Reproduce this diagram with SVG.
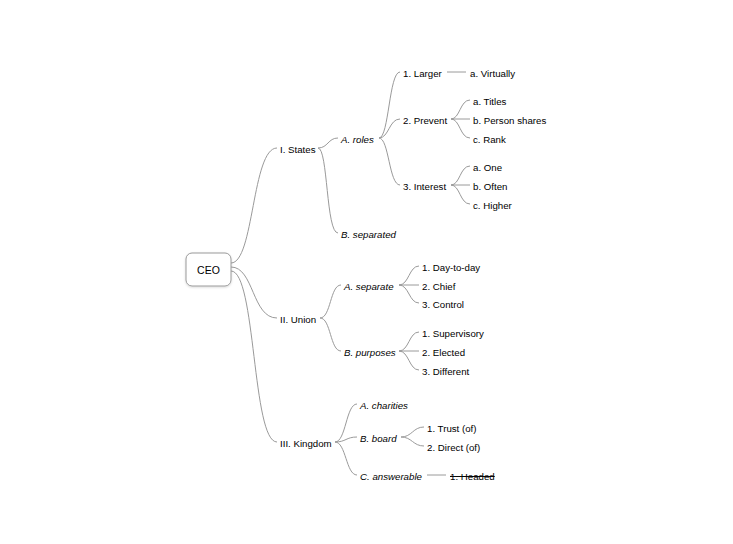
<svg xmlns="http://www.w3.org/2000/svg" width="733" height="544" viewBox="0 0 733 544">
<defs>
<filter id="sh" x="-20%" y="-20%" width="140%" height="150%">
<feDropShadow dx="0" dy="1" stdDeviation="1" flood-color="#000" flood-opacity="0.15"/>
</filter>
</defs>
<style>
text{font-family:"Liberation Sans",Arial,sans-serif;font-size:9.7px;fill:#000}
.i{font-style:italic}
.s{text-decoration:line-through}
.c{fill:none;stroke:#9a9a9a;stroke-width:1}
</style>
<rect width="733" height="544" fill="#fff"/>
<g id="connectors">
<path class="c" d="M231,263 C254,263 252,148 277,148"/>
<path class="c" d="M231,267 C254,267 252,318 277,318"/>
<path class="c" d="M231,271 C256,271 252,442 277,442"/>
<path class="c" d="M318,148 C328,148 328,138 338,138"/>
<path class="c" d="M318,148 C328,148 326,233 338,233"/>
<path class="c" d="M379,138 C389,138 389,72 400,72"/>
<path class="c" d="M379,138 C389,138 389,119 400,119"/>
<path class="c" d="M379,138 C389,138 389,185 400,185"/>
<path class="c" d="M447,72 L466,72"/>
<path class="c" d="M451,119 C460,119 460,100 470,100"/>
<path class="c" d="M451,119 L470,119"/>
<path class="c" d="M451,119 C460,119 460,138 470,138"/>
<path class="c" d="M451,185 C460,185 460,166 470,166"/>
<path class="c" d="M451,185 L470,185"/>
<path class="c" d="M451,185 C460,185 460,204 470,204"/>
<path class="c" d="M320,318 C331,318 330,285 341,285"/>
<path class="c" d="M320,318 C331,318 330,351 341,351"/>
<path class="c" d="M399,285 C409,285 409,266 419,266"/>
<path class="c" d="M399,285 L419,285"/>
<path class="c" d="M399,285 C409,285 409,303 419,303"/>
<path class="c" d="M399,351 C409,351 409,332 419,332"/>
<path class="c" d="M399,351 L419,351"/>
<path class="c" d="M399,351 C409,351 409,370 419,370"/>
<path class="c" d="M335,442 C346,442 346,404 357,404"/>
<path class="c" d="M335,442 C346,442 346,437 357,437"/>
<path class="c" d="M335,442 C346,442 346,475 357,475"/>
<path class="c" d="M401,437 C412,437 413,427 424,427"/>
<path class="c" d="M401,437 C412,437 413,446 424,446"/>
<path class="c" d="M427,475 L446,475"/>
</g>
<g id="ceo"><rect x="186" y="253" width="45" height="33" rx="6" fill="#fff" stroke="#9a9a9a" filter="url(#sh)"/><text x="208.5" y="274" text-anchor="middle" style="font-size:10.5px">CEO</text></g>
<g id="n1"><text x="280" y="152.5">I. States</text></g>
<g id="n1a"><text class="i" x="341" y="142.5">A. roles</text></g>
<g id="n1b"><text class="i" x="341" y="237.5">B. separated</text></g>
<g id="n1a1"><text x="403" y="76.5">1. Larger</text></g>
<g id="n1a1a"><text x="470" y="76.5">a. Virtually</text></g>
<g id="n1a2"><text x="403" y="123.5">2. Prevent</text></g>
<g id="n1a2a"><text x="473" y="104.5">a. Titles</text></g>
<g id="n1a2b"><text x="473" y="123.5">b. Person shares</text></g>
<g id="n1a2c"><text x="473" y="142.5">c. Rank</text></g>
<g id="n1a3"><text x="403" y="189.5">3. Interest</text></g>
<g id="n1a3a"><text x="473" y="170.5">a. One</text></g>
<g id="n1a3b"><text x="473" y="189.5">b. Often</text></g>
<g id="n1a3c"><text x="473" y="208.5">c. Higher</text></g>
<g id="n2"><text x="280" y="322.5">II. Union</text></g>
<g id="n2a"><text class="i" x="344" y="289.5">A. separate</text></g>
<g id="n2a1"><text x="422" y="270.5">1. Day-to-day</text></g>
<g id="n2a2"><text x="422" y="289.5">2. Chief</text></g>
<g id="n2a3"><text x="422" y="307.5">3. Control</text></g>
<g id="n2b"><text class="i" x="344" y="355.5">B. purposes</text></g>
<g id="n2b1"><text x="422" y="336.5">1. Supervisory</text></g>
<g id="n2b2"><text x="422" y="355.5">2. Elected</text></g>
<g id="n2b3"><text x="422" y="374.5">3. Different</text></g>
<g id="n3"><text x="280" y="446.5">III. Kingdom</text></g>
<g id="n3a"><text class="i" x="360" y="408.5">A. charities</text></g>
<g id="n3b"><text class="i" x="360" y="441.5">B. board</text></g>
<g id="n3b1"><text x="427" y="431.5">1. Trust (of)</text></g>
<g id="n3b2"><text x="427" y="450.5">2. Direct (of)</text></g>
<g id="n3c"><text class="i" x="360" y="479.5">C. answerable</text></g>
<g id="n3c1"><text class="s" x="450" y="479.5">1. Headed</text></g>
</svg>
